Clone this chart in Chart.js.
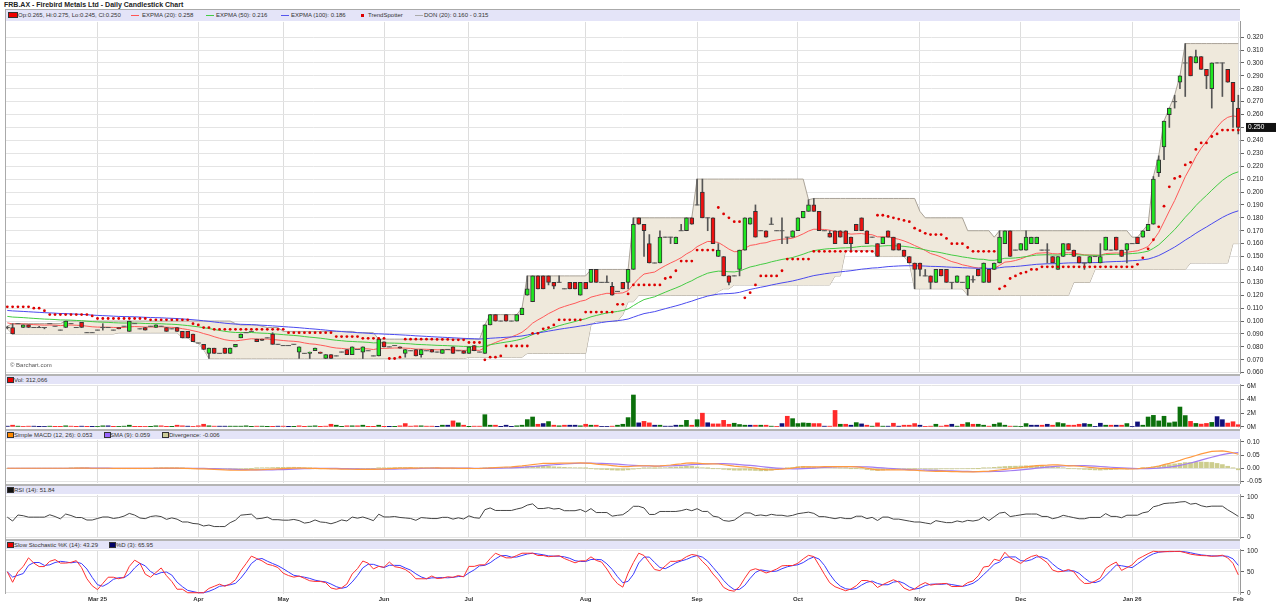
<!DOCTYPE html>
<html>
<head>
<meta charset="utf-8">
<title>FRB.AX - Daily Candlestick Chart</title>
<script src="https://cdn.jsdelivr.net/npm/chart.js@4.4.1/dist/chart.umd.min.js"></script>
<style>
  body { margin: 0; background: #fff; width: 1279px; height: 615px; overflow: hidden; position: relative;
         font-family: "Liberation Sans", Arial, sans-serif; }
  canvas { position: absolute; left: 0; }
  .title { position: absolute; left: 4px; top: 1px; font-size: 7px; font-weight: bold; color: #222; }
  .band { position: absolute; left: 6px; width: 1234px; height: 10px; background: #e4e4f8; z-index: 2; }
  .band span { position: absolute; top: 0; font-size: 6px; line-height: 10px; color: #333; white-space: nowrap; }
  .band i { position: absolute; top: 2px; width: 5px; height: 4px; border: 1px solid #333; }
  .band b { position: absolute; top: 5px; width: 8px; height: 1px; }
  .sep { position: absolute; left: 5px; width: 1235px; height: 2px; background: #b4b4b4; z-index: 2; }
  .edge { position: absolute; left: 5px; top: 10px; width: 1px; height: 584px; background: #aaa; z-index: 2; }
  .copy { position: absolute; left: 10px; top: 362px; font-size: 6px; color: #555; }
</style>
</head>
<body>
<div class="title">FRB.AX - Firebird Metals Ltd - Daily Candlestick Chart</div>

<canvas id="cPrice" width="1279" height="365" style="top:15px"></canvas>
<canvas id="cVol" width="1279" height="57" style="top:378px"></canvas>
<canvas id="cMacd" width="1279" height="57" style="top:433px"></canvas>
<canvas id="cRsi" width="1279" height="57" style="top:488px"></canvas>
<canvas id="cStoch" width="1279" height="61" style="top:543px"></canvas>

<div class="sep" style="top:9px;height:1px;background:#aaa"></div>
<div class="band" style="top:10px;height:11px">
  <i style="left:2px;width:8px;background:#e00"></i><span style="left:12px">Op:0.265, Hi:0.275, Lo:0.245, Cl:0.250</span>
  <b style="left:125px;background:#f55"></b><span style="left:136px">EXPMA (20): 0.258</span>
  <b style="left:200px;background:#4c4"></b><span style="left:210px">EXPMA (50): 0.216</span>
  <b style="left:275px;background:#55e"></b><span style="left:285px">EXPMA (100): 0.186</span>
  <i style="left:355px;top:4px;width:1px;height:1px;border-color:#d00;background:#d00"></i><span style="left:362px">TrendSpotter</span>
  <b style="left:409px;background:#aaa"></b><span style="left:418px">DON (20): 0.160 - 0.315</span>
</div>
<div class="copy">&copy; Barchart.com</div>

<div class="sep" style="top:374px"></div>
<div class="band" style="top:376px;height:8px">
  <i style="left:1px;top:1px;background:#e00"></i><span style="left:8px;line-height:8px">Vol: 312,066</span>
</div>

<div class="sep" style="top:429px"></div>
<div class="band" style="top:431px;height:8px">
  <i style="left:1px;top:1px;background:#f80"></i><span style="left:8px;line-height:8px">Simple MACD (12, 26): 0.053</span>
  <i style="left:98px;top:1px;background:#96f"></i><span style="left:104px;line-height:8px">SMA (9): 0.059</span>
  <i style="left:156px;top:1px;background:#cc9"></i><span style="left:163px;line-height:8px">Divergence: -0.006</span>
</div>

<div class="sep" style="top:484px"></div>
<div class="band" style="top:486px;height:8px">
  <i style="left:1px;top:1px;background:#111"></i><span style="left:8px;line-height:8px">RSI (14): 51.84</span>
</div>

<div class="sep" style="top:539px"></div>
<div class="band" style="top:541px;height:8px">
  <i style="left:1px;top:1px;background:#e00"></i><span style="left:8px;line-height:8px">Slow Stochastic %K (14): 43.29</span>
  <i style="left:103px;top:1px;background:#006"></i><span style="left:110px;line-height:8px">%D (3): 65.95</span>
</div>
<div class="edge"></div>

<script>
// daily bars, [open, high, low, close]
const candlesFeb25 = [
  [.095,.096,.094,.095],[.095,.098,.090,.090],[.098,.098,.098,.098],[.095,.097,.095,.097],[.097,.097,.095,.095],
  [.095,.095,.095,.095],[.095,.096,.095,.095],[.095,.095,.094,.095],[.098,.098,.098,.098],[.096,.096,.096,.096],
  [.093,.093,.093,.093],[.095,.100,.095,.100],[.098,.098,.098,.098],[.095,.095,.095,.095],[.099,.099,.095,.095],
  [.091,.091,.091,.091],[.091,.091,.091,.091]
];
const candlesMar25 = [
  [.093,.093,.093,.093],[.095,.098,.093,.095],[.095,.095,.095,.095],[.093,.093,.093,.093],[.095,.095,.094,.094],
  [.096,.096,.096,.096],[.092,.100,.092,.100],[.098,.098,.098,.098],[.094,.094,.094,.094],[.095,.095,.093,.093],
  [.096,.096,.096,.096],[.095,.097,.095,.097],[.096,.096,.096,.096],[.095,.095,.092,.092],[.094,.094,.094,.094],
  [.095,.095,.092,.092],[.092,.092,.087,.087],[.092,.092,.087,.087],[.090,.090,.084,.084]
];
const candlesApr25 = [
  [.083,.083,.083,.083],[.082,.082,.078,.078],[.075,.079,.071,.079],[.079,.079,.075,.075],[.075,.075,.075,.075],
  [.079,.079,.075,.075],[.075,.079,.075,.079],[.080,.082,.080,.082],[.087,.090,.087,.090],[.091,.091,.091,.091],
  [.092,.092,.092,.092],[.086,.086,.084,.084],[.086,.086,.085,.085],[.087,.087,.087,.087],[.090,.091,.082,.082],
  [.082,.082,.082,.082]
];
const candlesMay25 = [
  [.081,.081,.081,.081],[.081,.081,.081,.081],[.082,.082,.082,.082],[.076,.080,.071,.080],[.075,.075,.075,.075],
  [.075,.076,.071,.076],[.077,.079,.077,.079],[.076,.076,.075,.075],[.071,.074,.071,.074],[.074,.074,.071,.071],
  [.073,.073,.073,.073],[.076,.076,.076,.076],[.078,.078,.074,.074],[.074,.080,.074,.080],[.078,.078,.078,.078],
  [.076,.080,.071,.080],[.077,.077,.077,.077],[.073,.073,.073,.073],[.073,.086,.073,.086]
];
const candlesJun25 = [
  [.084,.084,.080,.080],[.080,.080,.080,.080],[.081,.081,.081,.081],[.080,.080,.079,.079],[.075,.078,.072,.078],
  [.077,.077,.077,.077],[.078,.078,.073,.073],[.074,.078,.072,.078],[.077,.077,.077,.077],[.078,.078,.076,.076],
  [.076,.076,.076,.076],[.075,.078,.075,.078],[.078,.078,.078,.078],[.080,.080,.075,.075],[.077,.077,.077,.077],
  [.077,.077,.075,.075]
];
const candlesJul25 = [
  [.075,.080,.075,.080],[.081,.081,.077,.077],[.076,.076,.076,.076],[.075,.097,.075,.097],[.097,.105,.097,.105],
  [.105,.105,.100,.100],[.100,.100,.100,.100],[.105,.105,.100,.100],[.100,.100,.100,.100],[.100,.105,.100,.105],
  [.105,.110,.105,.110],[.120,.135,.120,.125],[.115,.135,.115,.135],[.135,.135,.125,.125],[.135,.135,.125,.125],
  [.135,.135,.128,.130],[.130,.130,.125,.127],[.130,.135,.130,.130],[.125,.125,.125,.125],[.130,.130,.125,.125],
  [.130,.130,.125,.125],[.120,.130,.120,.130]
];
const candlesAug25 = [
  [.130,.130,.125,.125],[.130,.140,.130,.140],[.140,.140,.130,.130],[.130,.130,.130,.130],[.130,.135,.130,.130],
  [.127,.130,.120,.120],[.123,.123,.123,.123],[.130,.130,.125,.125],[.130,.140,.125,.140],[.140,.180,.140,.175],
  [.180,.180,.175,.175],[.175,.175,.150,.170],[.160,.167,.145,.145],[.145,.145,.145,.145],[.145,.170,.145,.165],
  [.165,.165,.165,.165],[.165,.165,.160,.165],[.160,.165,.160,.165],[.170,.175,.170,.170],[.170,.180,.170,.180],
  [.180,.180,.175,.175]
];
const candlesSep25 = [
  [.190,.210,.190,.190],[.200,.210,.180,.180],[.180,.180,.170,.180],[.180,.180,.160,.160],[.150,.160,.150,.155],
  [.150,.150,.135,.135],[.135,.135,.128,.130],[.135,.135,.135,.135],[.140,.155,.135,.155],[.155,.180,.155,.180],
  [.175,.180,.175,.180],[.185,.190,.165,.165],[.170,.170,.170,.170],[.170,.170,.165,.165],[.175,.180,.175,.175],
  [.170,.170,.170,.170],[.170,.180,.160,.170],[.165,.165,.160,.165],[.165,.170,.165,.170]
];
const candlesOct25 = [
  [.170,.180,.170,.180],[.180,.185,.180,.185],[.185,.194,.185,.190],[.190,.195,.185,.185],[.185,.185,.170,.170],
  [.170,.170,.170,.170],[.168,.170,.165,.165],[.170,.170,.160,.160],[.170,.170,.165,.165],[.170,.170,.160,.160],
  [.165,.165,.155,.160],[.175,.175,.170,.170],[.180,.180,.170,.170],[.170,.170,.160,.160],[.165,.165,.165,.165],
  [.160,.160,.150,.150],[.160,.165,.160,.165],[.170,.170,.165,.165],[.165,.165,.155,.155],[.160,.160,.155,.155],
  [.155,.155,.150,.150],[.150,.150,.145,.145],[.145,.145,.125,.140]
];
const candlesNov25 = [
  [.145,.145,.135,.140],[.135,.140,.135,.135],[.135,.135,.125,.130],[.130,.140,.130,.140],[.140,.140,.135,.135],
  [.140,.140,.130,.130],[.130,.130,.125,.130],[.130,.135,.130,.135],[.130,.130,.130,.130],[.125,.135,.120,.135],
  [.132,.135,.130,.132],[.140,.140,.135,.135],[.130,.145,.130,.145],[.140,.140,.130,.130],[.140,.145,.140,.145],
  [.145,.170,.145,.165],[.160,.170,.160,.170],[.170,.170,.150,.150],[.155,.155,.155,.155]
];
const candlesDec25 = [
  [.155,.160,.155,.160],[.155,.170,.155,.165],[.160,.165,.160,.165],[.160,.165,.160,.165],[.155,.155,.155,.155],
  [.155,.160,.145,.155],[.150,.150,.145,.145],[.140,.150,.140,.150],[.150,.160,.150,.160],[.160,.160,.155,.155],
  [.155,.155,.150,.150],[.150,.150,.145,.145],[.145,.145,.140,.145],[.145,.150,.145,.150],[.150,.150,.150,.150],
  [.145,.160,.145,.150],[.155,.165,.155,.165],[.155,.155,.155,.155],[.165,.165,.155,.155],[.155,.155,.150,.150],
  [.155,.160,.145,.160]
];
const candlesJan26 = [
  [.160,.160,.160,.160],[.165,.165,.160,.160],[.165,.170,.165,.170],[.170,.175,.170,.175],[.175,.212,.175,.210],
  [.215,.228,.212,.225],[.235,.255,.225,.255],[.260,.265,.250,.265],[.270,.275,.265,.270],[.285,.290,.280,.290],
  [.300,.315,.274,.300],[.305,.305,.290,.290],[.300,.310,.300,.305],[.305,.305,.295,.295],[.295,.295,.280,.290],
  [.280,.300,.265,.300],[.300,.300,.300,.300],[.300,.300,.274,.300],[.295,.295,.285,.285],[.285,.285,.250,.270]
];
const candlesFeb26 = [
  [.265,.275,.245,.250]
];

// volume, thousands of shares
const volFeb25 = [100,240,100,50,100,100,30,50,100,30,30,150,100,30,100,30,30];
const volMar25 = [50,150,150,30,50,100,240,30,30,50,30,150,150,30,30,240,150,100,50];
const volApr25 = [150,380,150,100,100,100,100,100,100,150,30,100,100,30,30,100];
const volMay25 = [100,30,30,150,30,100,150,30,100,380,240,30,150,150,150,240,30,30,240];
const volJun25 = [30,30,30,150,480,100,150,150,100,100,30,240,240,870,580,240];
const volJul25 = [30,100,100,1780,240,240,30,240,30,150,240,1060,1440,380,480,770,240,150,240,240,240,150];
const volAug25 = [380,240,240,50,50,100,240,380,1350,4660,580,800,580,240,240,100,100,240,240,950,240];
const volSep25 = [1050,2000,600,430,430,950,380,530,340,240,240,240,240,240,100,50,480,1550,1200];
const volOct25 = [480,580,530,480,480,100,100,2400,380,380,240,620,430,240,100,580,100,100,530,100,240,240,480];
const volNov25 = [240,50,100,380,100,240,380,100,380,620,380,380,240,100,380,580,240,100,100];
const volDec25 = [50,480,240,240,240,380,240,620,480,240,240,380,480,380,50,530,240,240,240,240,480];
const volJan26 = [50,720,240,1440,1680,870,1550,580,720,2900,1650,800,500,400,500,650,1500,1050,550,750];
const volFeb26 = [312.066];

// TrendSpotter dots
const dotsFeb25 = [.111,.111,.111,.111,.111,.110,.110,.108,.105,.105,.105,.105,.105,.105,.105,.105,.104];
const dotsMar25 = [.102,.102,.102,.102,.102,.102,.102,.102,.102,.102,.101,.101,.101,.101,.101,.101,.101,.101,.098];
const dotsApr25 = [.097,.095,.095,.0936,.0936,.0936,.0936,.0936,.0936,.0936,.0936,.0936,.0936,.0936,.0936,.0936];
const dotsMay25 = [.0936,.091,.091,.091,.091,.091,.091,.091,.091,.091,.088,.088,.088,.088,.088,.0866,.0866,.0866,.0866];
const dotsJun25 = [.0866,.071,.071,.072,.086,.086,.086,.086,.086,.086,.0858,.0858,.0858,.0855,.0855,.0855];
const dotsJul25 = [.0834,.0834,.0834,.070,.072,.072,.073,.0807,.0807,.0807,.0807,.0807,.0905,.0905,.094,.095,.097,.101,.101,.101,.101,.101];
const dotsAug25 = [.107,.107,.107,.107,.107,.107,.113,.113,.121,.128,.128,.128,.128,.128,.128,.133,.134,.139,.1465,.1465,.1465];
const dotsSep25 = [.155,.155,.155,.155,.188,.183,.180,.177,.177,.118,.122,.128,.135,.135,.135,.135,.139,.148,.148];
const dotsOct25 = [.148,.148,.148,.154,.154,.154,.154,.154,.154,.154,.154,.154,.154,.154,.154,.182,.182,.181,.180,.179,.178,.177,.172];
const dotsNov25 = [.170,.168,.167,.167,.167,.164,.160,.160,.160,.157,.154,.154,.154,.154,.154,.125,.127,.133,.135];
const dotsDec25 = [.137,.138,.140,.140,.142,.142,.142,.142,.142,.142,.142,.142,.142,.142,.142,.142,.142,.142,.142,.142,.142];
const dotsJan26 = [.142,.144,.149,.156,.163,.173,.189,.204,.2105,.212,.221,.223,.233,.238,.238,.243,.245,.248,.248,.248];
const dotsFeb26 = [.248];

const monthTickLabels = ["Mar 25","Apr","May","Jun","Jul","Aug","Sep","Oct","Nov","Dec","Jan 26","Feb"];
const priceTicks = [0.060,0.070,0.080,0.090,0.100,0.110,0.120,0.130,0.140,0.150,0.160,0.170,0.180,0.190,
                    0.200,0.210,0.220,0.230,0.240,0.250,0.260,0.270,0.280,0.290,0.300,0.310,0.320];
const volTicks = [0, 2e6, 4e6, 6e6];
const macdTicks = [-0.05, 0, 0.05, 0.10];
const rsiTicks = [0, 50, 100];
const stochTicks = [0, 50, 100];
// moving averages already running when the window opens (read at the left edge)
const emaStart = { 20: 0.099, 50: 0.104, 100: 0.1085 };

const months = [candlesFeb25,candlesMar25,candlesApr25,candlesMay25,candlesJun25,candlesJul25,
                candlesAug25,candlesSep25,candlesOct25,candlesNov25,candlesDec25,candlesJan26,candlesFeb26];
const candles = [].concat(...months);
const volumes = [].concat(volFeb25,volMar25,volApr25,volMay25,volJun25,volJul25,volAug25,
                          volSep25,volOct25,volNov25,volDec25,volJan26,volFeb26).map(v => v * 1000);
const dots = [].concat(dotsFeb25,dotsMar25,dotsApr25,dotsMay25,dotsJun25,dotsJul25,dotsAug25,
                       dotsSep25,dotsOct25,dotsNov25,dotsDec25,dotsJan26,dotsFeb26);

const monthStarts = [];
{ let n = 0; months.forEach(m => { monthStarts.push(n); n += m.length; }); }

const opens = candles.map(c => c[0]);
const highs = candles.map(c => c[1]);
const lows = candles.map(c => c[2]);
const closes = candles.map(c => c[3]);
const N = candles.length;

// indicators
function ema(src, n, start) {
  const k = 2 / (n + 1);
  let e = start;
  return src.map(v => (e += k * (v - e)));
}
function sma(src, n) {
  return src.map((_, i) => {
    const w = src.slice(Math.max(0, i - n + 1), i + 1);
    return w.reduce((a, b) => a + b, 0) / w.length;
  });
}
function rolling(src, n, fn) {
  return src.map((_, i) => fn(src.slice(Math.max(0, i - n + 1), i + 1)));
}

const ema20 = ema(closes, 20, emaStart[20]);
const ema50 = ema(closes, 50, emaStart[50]);
const ema100 = ema(closes, 100, emaStart[100]);
const donUp = rolling(highs, 20, a => Math.max(...a));
const donLo = rolling(lows, 20, a => Math.min(...a));

const sma12 = sma(closes, 12), sma26 = sma(closes, 26);
const macd = closes.map((_, i) => sma12[i] - sma26[i]);
const signal = sma(macd, 9);
const diverg = macd.map((v, i) => v - signal[i]);

const rsi = [50];
{
  let ag = 0.0008, al = 0.0008;
  for (let i = 1; i < N; i++) {
    const d = closes[i] - closes[i - 1];
    ag = (ag * 13 + Math.max(d, 0)) / 14;
    al = (al * 13 + Math.max(-d, 0)) / 14;
    rsi.push(al === 0 ? 100 : 100 - 100 / (1 + ag / al));
  }
}

const fastK = closes.map((c, i) => {
  const lo = Math.min(...lows.slice(Math.max(0, i - 13), i + 1));
  const hi = Math.max(...highs.slice(Math.max(0, i - 13), i + 1));
  return hi === lo ? 50 : (c - lo) / (hi - lo) * 100;
});
const slowK = sma(fastK, 3);
const pctD = sma(slowK, 3);

const volColors = closes.map((c, i) => {
  const p = i ? closes[i - 1] : opens[0];
  return c > p ? '#0b700b' : c < p ? '#ff2a2a' : '#10107a';
});

// chart setup
const X_MIN = -0.4335, X_MAX = 232.32;
const pts = arr => arr.map((v, i) => ({ x: i, y: v }));
Chart.defaults.font.family = '"Liberation Sans", Arial, sans-serif';

function xAxis(showLabels) {
  return {
    type: 'linear', min: X_MIN, max: X_MAX, offset: false,
    afterBuildTicks: s => { s.ticks = monthStarts.slice(1).map(v => ({ value: v })); },
    afterFit: s => { s.height = showLabels ? 10 : 0; },
    grid: { color: '#dddddd', drawTicks: false, offset: false },
    border: { display: false },
    ticks: {
      display: showLabels, autoSkip: false, maxRotation: 0, padding: 2, color: '#333',
      font: { size: 6, weight: 'bold' },
      callback: v => monthTickLabels[monthStarts.indexOf(v) - 1]
    }
  };
}
function yAxis(min, max, ticks, fmt) {
  return {
    position: 'right', min, max,
    afterBuildTicks: s => { s.ticks = ticks.map(v => ({ value: v })); },
    afterFit: s => { s.width = 39; },
    grid: { color: '#e4e4e4', tickColor: '#666', tickLength: 4 },
    border: { color: '#9a9a9a' },
    ticks: { color: '#222', font: { size: 6.5 }, padding: 3, autoSkip: false, callback: fmt }
  };
}
function options(xLabels, y) {
  return {
    responsive: false, animation: false, devicePixelRatio: 1, events: [],
    layout: { padding: { left: 5, right: 0, top: 6, bottom: xLabels ? 0 : 6 }, autoPadding: false },
    plugins: { legend: { display: false }, tooltip: { enabled: false } },
    scales: { x: xAxis(xLabels), y }
  };
}
const line = (data, color, order, width) => ({
  type: 'line', data: pts(data), borderColor: color, borderWidth: width || 1,
  pointRadius: 0, tension: 0, fill: false, order
});

const lastClose = closes[N - 1];
const lastTag = {
  id: 'lastTag',
  afterDraw(chart) {
    const y = chart.scales.y.getPixelForValue(lastClose);
    const c = chart.ctx;
    c.save();
    c.fillStyle = '#111';
    c.fillRect(chart.chartArea.right + 6, y - 4.5, 30, 9);
    c.fillStyle = '#fff';
    c.font = '6.5px "Liberation Sans", Arial, sans-serif';
    c.textBaseline = 'middle';
    c.fillText(lastClose.toFixed(3), chart.chartArea.right + 8, y);
    c.restore();
  }
};

const upBodies = [], downBodies = [], flats = [];
candles.forEach((c, i) => {
  if (c[3] > c[0]) upBodies.push({ x: i, y: [c[0], c[3]] });
  else if (c[3] < c[0]) downBodies.push({ x: i, y: [c[3], c[0]] });
  else flats.push({ x: i, y: c[3] });
});

new Chart(document.getElementById('cPrice'), {
  type: 'line',
  data: {
    datasets: [
      { type: 'line', data: pts(donUp), borderColor: '#aaa398', borderWidth: 1, backgroundColor: '#efe9dc',
        fill: '+1', pointRadius: 0, tension: 0, order: 10 },
      { type: 'line', data: pts(donLo), borderColor: '#aaa398', borderWidth: 1, fill: false,
        pointRadius: 0, tension: 0, order: 10 },
      line(ema100, '#4a4aee', 8),
      line(ema50, '#44cc44', 8),
      line(ema20, '#ff5a5a', 8),
      { type: 'bar', data: candles.map((c, i) => ({ x: i, y: [c[2], c[1]] })), backgroundColor: '#555',
        barThickness: 1, grouped: false, order: 6 },
      { type: 'bar', data: upBodies, backgroundColor: '#1fe81f', borderColor: '#333', borderWidth: 1,
        borderSkipped: false, barThickness: 4, grouped: false, order: 5 },
      { type: 'bar', data: downBodies, backgroundColor: '#f01010', borderColor: '#333', borderWidth: 1,
        borderSkipped: false, barThickness: 4, grouped: false, order: 5 },
      { type: 'line', data: flats, showLine: false, pointStyle: 'line', pointRadius: 2.5,
        borderColor: '#555', borderWidth: 1, order: 4 },
      { type: 'line', data: pts(dots), showLine: false, pointStyle: 'circle', pointRadius: 1.4,
        backgroundColor: '#dd0000', borderWidth: 0, order: 3 }
    ]
  },
  options: options(false, yAxis(0.05969, 0.33179, priceTicks, v => v.toFixed(3))),
  plugins: [lastTag]
});

new Chart(document.getElementById('cVol'), {
  type: 'bar',
  data: { datasets: [{ data: pts(volumes), backgroundColor: volColors, barThickness: 4, grouped: false }] },
  options: options(false, yAxis(-0.1827e6, 6.1405e6, volTicks, v => (v / 1e6) + 'M'))
});

new Chart(document.getElementById('cMacd'), {
  type: 'line',
  data: {
    datasets: [
      { type: 'bar', data: pts(diverg), backgroundColor: '#cdcd8e', barThickness: 4, grouped: false, order: 5 },
      line(signal, '#a27cf2', 3, 1.2),
      line(macd, '#ff9a40', 2, 1.2)
    ]
  },
  options: options(false, yAxis(-0.05618, 0.10726, macdTicks, v => v.toFixed(2)))
});

new Chart(document.getElementById('cRsi'), {
  type: 'line',
  data: { datasets: [line(rsi, '#444', 1)] },
  options: options(false, yAxis(-1.65, 104.73, rsiTicks, v => String(v)))
});

new Chart(document.getElementById('cStoch'), {
  type: 'line',
  data: { datasets: [line(pctD, '#3a3aff', 2), line(slowK, '#ff3030', 1)] },
  options: options(true, yAxis(-3.04, 102.34, stochTicks, v => String(v)))
});
</script>
</body>
</html>
